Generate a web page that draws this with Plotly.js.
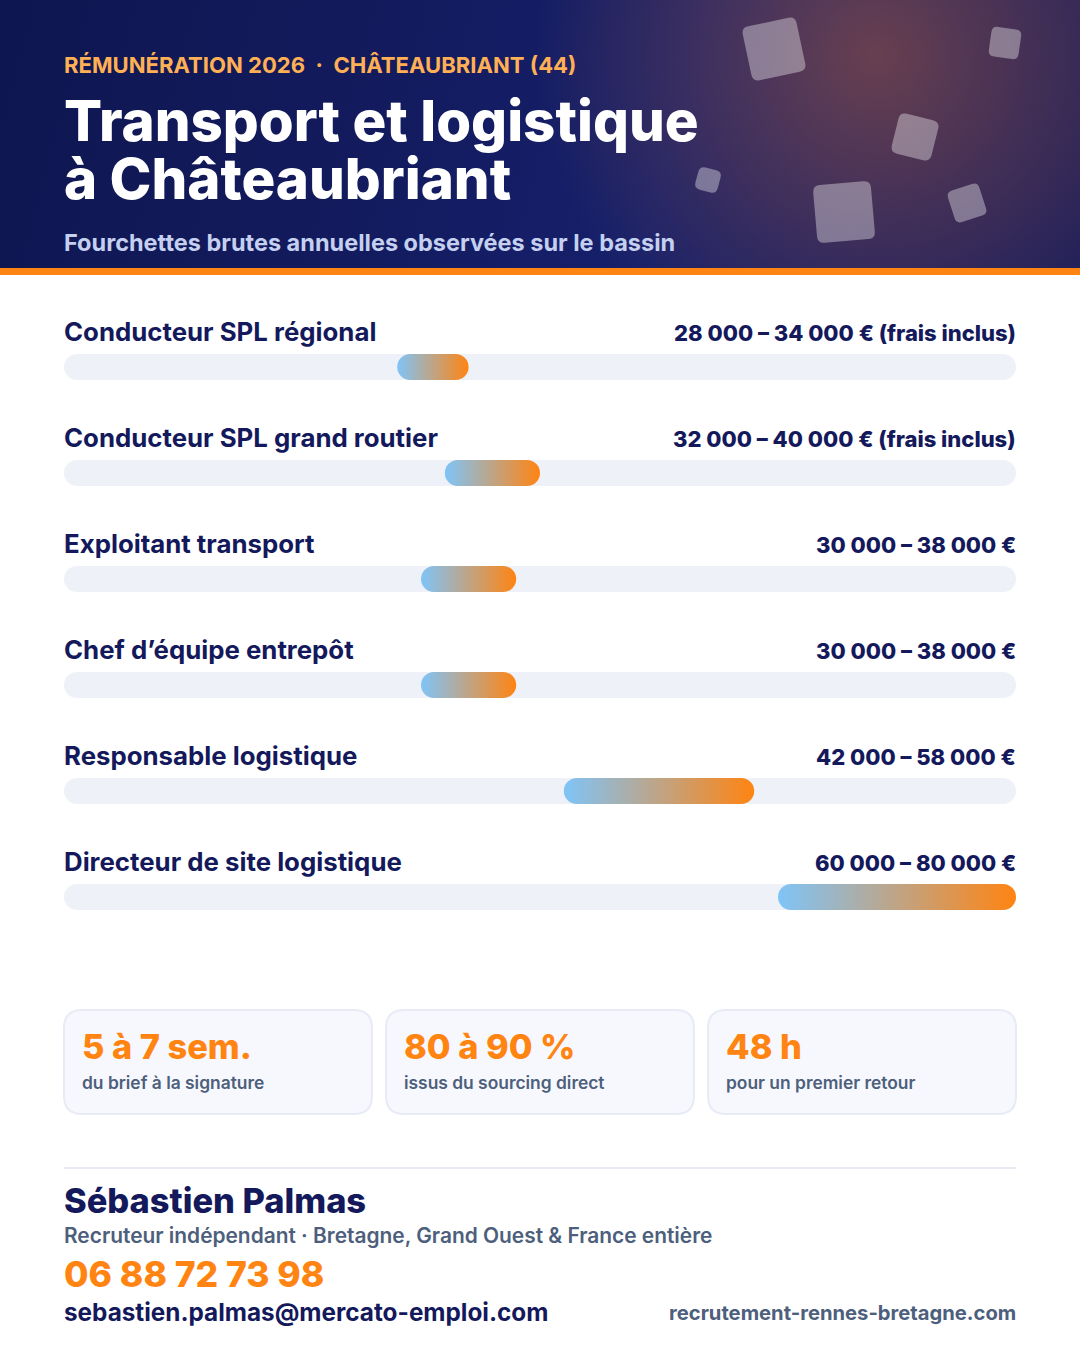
<!DOCTYPE html>
<html>
<head>
<meta charset="utf-8">
<script src="https://cdn.plot.ly/plotly-3.0.1.min.js"></script>
<style>
  html, body { margin: 0; padding: 0; background: #fff; overflow: hidden; }
  #banner {
    position: absolute; left: 0; top: 0; width: 1080px; height: 268px;
    background:
      radial-gradient(circle 340px at 875px 55px, rgba(255,125,40,.35), rgba(255,125,40,0) 100%),
      linear-gradient(105deg, #0e1650 0%, #131b5e 35%, #16206b 62%, #191d5c 100%);
  }
  #chart { position: absolute; left: 0; top: 0; width: 1080px; height: 1350px; }
</style>
</head>
<body>
<div id="banner"></div>
<div id="chart"></div>
<script>
var W = 1080, H = 1350;
var FONT = 'Inter';

// salary ranges, euros per year
var roles = ['Conducteur SPL régional', 'Conducteur SPL grand routier', 'Exploitant transport', 'Chef d’équipe entrepôt', 'Responsable logistique', 'Directeur de site logistique'];
var lows = [28000, 32000, 30000, 30000, 42000, 60000];
var highs = [34000, 40000, 38000, 38000, 58000, 80000];
var notes = [' (frais inclus)', ' (frais inclus)', '', '', '', ''];
var axisMax = 80000;

var statValues = ['5 à 7 sem.', '80 à 90 %', '48 h'];
var statLabels = ['du brief à la signature', 'issus du sourcing direct', 'pour un premier retour'];

var eyebrow = 'RÉMUNÉRATION 2026  ·  CHÂTEAUBRIANT (44)';
var titleLines = ['Transport et logistique', 'à Châteaubriant'];
var subtitle = 'Fourchettes brutes annuelles observées sur le bassin';
var contactName = 'Sébastien Palmas';
var contactRole = 'Recruteur indépendant · Bretagne, Grand Ouest & France entière';
var contactPhone = '06 88 72 73 98';
var contactMail = 'sebastien.palmas@mercato-emploi.com';
var contactSite = 'recrutement-rennes-bretagne.com';

var NAVY = '#14195c', ORANGE = '#ff8412', SLATE = '#4d5f7c';

function px(x){ return x / W; }
function py(y){ return 1 - y / H; }
function euros(v){ return String(v).replace(/(\d)(?=(\d{3})$)/, '$1 '); }

// text placed by its baseline, in page pixels
function label(text, x, base, size, color, weight, anchor){
  return {
    text: text, showarrow: false, xref: 'paper', yref: 'paper', borderpad: 0, borderwidth: 0,
    x: px(x), y: py(base - size * 0.36), xanchor: anchor || 'left', yanchor: 'middle',
    font: {family: FONT, size: size, color: color, weight: weight}
  };
}

//rounded square as a path, rotated around its centre
function roundedBox(cx, cy, w, h, r, deg){
  var a = deg * Math.PI / 180, c = Math.cos(a), s = Math.sin(a);
  function p(x, y){ return px(cx + x * c - y * s) + ',' + py(cy + x * s + y * c); }
  var hw = w / 2, hh = h / 2;
  return 'M' + p(-hw + r, -hh) + ' L' + p(hw - r, -hh) + ' Q' + p(hw, -hh) + ' ' + p(hw, -hh + r) +
    ' L' + p(hw, hh - r) + ' Q' + p(hw, hh) + ' ' + p(hw - r, hh) +
    ' L' + p(-hw + r, hh) + ' Q' + p(-hw, hh) + ' ' + p(-hw, hh - r) +
    ' L' + p(-hw, -hh + r) + ' Q' + p(-hw, -hh) + ' ' + p(-hw + r, -hh) + ' Z';
}

var shapes = [];

//header decoration
[[774, 49, 55, 7, -12], [1005, 43, 30, 6, 8], [915, 137, 41, 7, 14], [708, 180, 23, 6, 15], [844, 212, 58, 7, -5], [967, 203, 33, 6, -18]].forEach(function(d){
  shapes.push({type: 'path', xref: 'paper', yref: 'paper', layer: 'below', path: roundedBox(d[0], d[1], d[2], d[2], d[3], d[4]), fillcolor: 'rgba(255,255,255,0.36)', line: {width: 0}});
});

//orange strip under the header
shapes.push({type: 'rect', xref: 'paper', yref: 'paper', layer: 'below', x0: 0, x1: 1, y0: py(275), y1: py(268), fillcolor: ORANGE, line: {width: 0}});

//stat cards
[218, 540, 862].forEach(function(cx){
  shapes.push({type: 'path', xref: 'paper', yref: 'paper', layer: 'below', path: roundedBox(cx, 1062, 308, 104, 18, 0), fillcolor: '#f7f8fd', line: {color: '#e8ebf6', width: 2}});
});

//divider above the contact block
shapes.push({type: 'line', xref: 'paper', yref: 'paper', layer: 'below', x0: px(64), x1: px(1016), y0: py(1168), y1: py(1168), line: {color: '#e8ebf6', width: 2}});

var annotations = [
  label(eyebrow, 64, 73, 22.1, '#ffb055', 700),
  label(titleLines[0], 64, 141, 56.4, '#ffffff', 800),
  label(titleLines[1], 64, 199, 56.4, '#ffffff', 800),
  label(subtitle, 64, 251, 23.5, '#c5d0f0', 700),
  label(contactName, 64, 1213, 34.4, NAVY, 800),
  label(contactRole, 64, 1243, 20.9, SLATE, 600),
  label(contactPhone, 64, 1287, 35.5, ORANGE, 800),
  label(contactMail, 64, 1321, 24.3, NAVY, 700),
  label(contactSite, 1016, 1320, 20.2, SLATE, 700, 'right')
];

//row captions sit above their track
roles.forEach(function(role, i){
  var base = 341 + i * 106;
  annotations.push(label(role, 64, base, 25.8, NAVY, 700));
  annotations.push(label(euros(lows[i]) + ' – ' + euros(highs[i]) + ' €' + notes[i], 1016, base, 22, NAVY, 800, 'right'));
});

statValues.forEach(function(v, i){
  annotations.push(label(v, 82 + i * 322, 1059, 34.4, ORANGE, 800));
  annotations.push(label(statLabels[i], 82 + i * 322, 1089, 17.4, SLATE, 600));
});

var barThickness = 26 / 106;

var track = {
  type: 'bar', orientation: 'h', y: roles, x: roles.map(function(){ return axisMax; }), base: 0,
  width: barThickness, marker: {color: '#eef1f8', cornerradius: 13, line: {width: 0}}
};

var range = {
  type: 'bar', orientation: 'h', y: roles, base: lows, x: highs.map(function(h, i){ return h - lows[i]; }),
  width: barThickness, marker: {color: ORANGE, cornerradius: 13, line: {width: 0}}
};

var layout = {
  width: W, height: H,
  margin: {l: 0, r: 0, t: 0, b: 0},
  paper_bgcolor: 'rgba(0,0,0,0)', plot_bgcolor: 'rgba(0,0,0,0)',
  barmode: 'overlay', showlegend: false, hovermode: false,
  xaxis: {domain: [px(64), px(1016)], range: [0, axisMax], visible: false, fixedrange: true},
  yaxis: {domain: [py(950), py(314)], type: 'category', categoryorder: 'array', categoryarray: roles, range: [5.5, -0.5], visible: false, fixedrange: true},
  shapes: shapes,
  annotations: annotations
};

var chart = document.getElementById('chart');
Plotly.newPlot(chart, [track, range], layout, {displayModeBar: false, staticPlot: true}).then(function(){
  //plotly bars have no gradient fill, so add one by hand
  var svg = chart.querySelector('.main-svg');
  var NS = 'http://www.w3.org/2000/svg';
  var grad = document.createElementNS(NS, 'linearGradient');
  grad.setAttribute('id', 'rangeFade');
  [['0%', '#7fc4f8'], ['100%', ORANGE]].forEach(function(s){
    var stop = document.createElementNS(NS, 'stop');
    stop.setAttribute('offset', s[0]);
    stop.setAttribute('stop-color', s[1]);
    grad.appendChild(stop);
  });
  svg.querySelector('defs').appendChild(grad);
  var traces = chart.querySelectorAll('.barlayer .trace');
  traces[1].querySelectorAll('path').forEach(function(p){ p.style.fill = 'url(#rangeFade)'; });
});
</script>
</body>
</html>
